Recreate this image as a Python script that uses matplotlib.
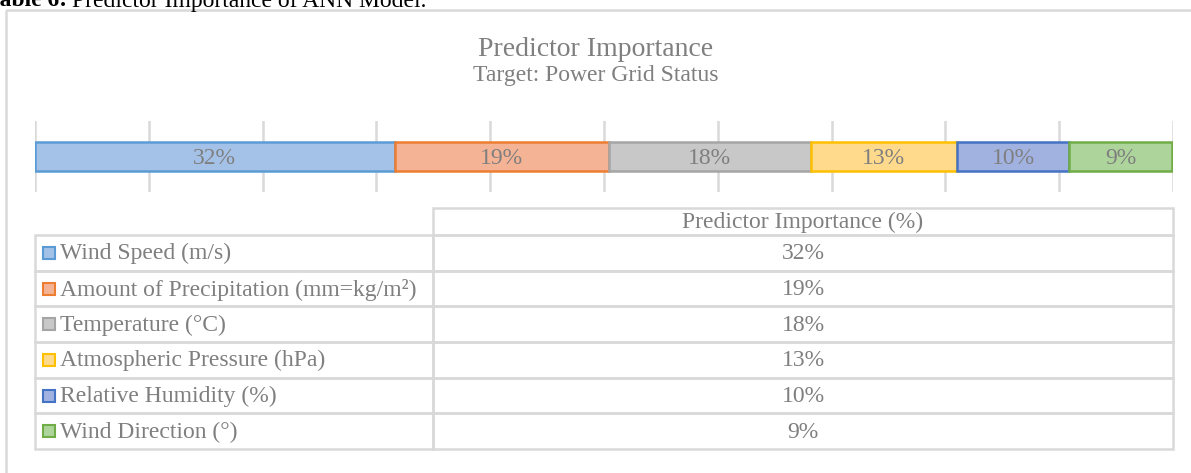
import matplotlib.pyplot as plt
from matplotlib.patches import Rectangle

# Datos (fracción del total)
predictores = ["Wind Speed (m/s)", "Amount of Precipitation (mm=kg/m²)", "Temperature (°C)",
               "Atmospheric Pressure (hPa)", "Relative Humidity (%)", "Wind Direction (°)"]
importancia = [0.316, 0.188, 0.178, 0.128, 0.099, 0.090]
colores_borde = ["#5B9BD5", "#ED7D31", "#A5A5A5", "#FFC000", "#4472C4", "#70AD47"]
colores_relleno = ["#A4C1E7", "#F5B395", "#C8C8C8", "#FFD98C", "#A1B2E0", "#ADD49B"]
etiquetas = [f"{round(v * 100):.0f}%" for v in importancia]

plt.rcParams['font.family'] = ['Liberation Serif', 'DejaVu Serif']
gris = "#7F7F7F"
linea = "#D9D9D9"

W, H = 1191, 473
fig = plt.figure(figsize=(W / 100, H / 100), dpi=100)

# Eje en píxeles para textos, tabla y marco
ax = fig.add_axes([0, 0, 1, 1])
ax.set_xlim(0, W)
ax.set_ylim(H, 0)
ax.axis('off')

# Marco del gráfico
ax.add_patch(Rectangle((6, 10), W + 20, H + 20, fill=False, ec=linea, lw=1.8))

# Título superior (recortado, como en la imagen original)
t1 = ax.text(-14, 6.5, "Table 6:", fontsize=17, fontweight='bold', color='black', va='baseline')
fig.canvas.draw()
bb = t1.get_window_extent()
ax.text(bb.x1 + 5, 6.5, "Predictor Importance of ANN Model.", fontsize=17, color='black', va='baseline')

# Títulos del gráfico
ax.text(596, 50, "Predictor Importance", fontsize=20, color=gris, ha='center', va='center')
ax.text(596, 76, "Target: Power Grid Status", fontsize=17, color=gris, ha='center', va='center')

# Barra apilada
x0, x1, y0, y1 = 35, 1173, 121, 192
axb = fig.add_axes([x0 / W, 1 - y1 / H, (x1 - x0) / W, (y1 - y0) / H])
axb.set_xlim(0, 1)
axb.set_ylim(-0.5, 0.5)
axb.set_xticks([i / 10 for i in range(11)])
axb.grid(axis='x', color=linea, lw=1.8)
axb.set_axisbelow(True)
axb.tick_params(left=False, bottom=False, labelleft=False, labelbottom=False)
for s in axb.spines.values():
    s.set_visible(False)
axb.patch.set_alpha(0)

izq = 0
for v, et, cb, cr in zip(importancia, etiquetas, colores_borde, colores_relleno):
    axb.barh(0, v, left=izq, height=0.41, color=cr, edgecolor=cb, linewidth=1.8)
    axb.text(izq + v / 2, -0.03, et, ha='center', va='center', fontsize=17, color=gris)
    izq += v

# Tabla de datos
tx0, tsplit, tx1 = 35, 433, 1173
top_header = 207.5
fila0 = 235
alto = (449 - fila0) / len(predictores)
lw = 1.8

# encabezado
ax.add_patch(Rectangle((tsplit, top_header), tx1 - tsplit, fila0 - top_header, fill=False, ec=linea, lw=lw))
ax.text((tsplit + tx1) / 2, (top_header + fila0) / 2 + 1, "Predictor Importance (%)",
        fontsize=17, color=gris, ha='center', va='center')

for i, (nombre, et, cb, cr) in enumerate(zip(predictores, etiquetas, colores_borde, colores_relleno)):
    ya = fila0 + i * alto
    ax.add_patch(Rectangle((tx0, ya), tsplit - tx0, alto, fill=False, ec=linea, lw=lw))
    ax.add_patch(Rectangle((tsplit, ya), tx1 - tsplit, alto, fill=False, ec=linea, lw=lw))
    yc = ya + alto / 2
    ax.add_patch(Rectangle((43, yc - 6), 12, 12, fc=cr, ec=cb, lw=1.5))
    ax.text(60, yc + 1, nombre, fontsize=17, color=gris, ha='left', va='center')
    ax.text((tsplit + tx1) / 2, yc + 1, et, fontsize=17, color=gris, ha='center', va='center')

fig.savefig("out.png", dpi=100)
